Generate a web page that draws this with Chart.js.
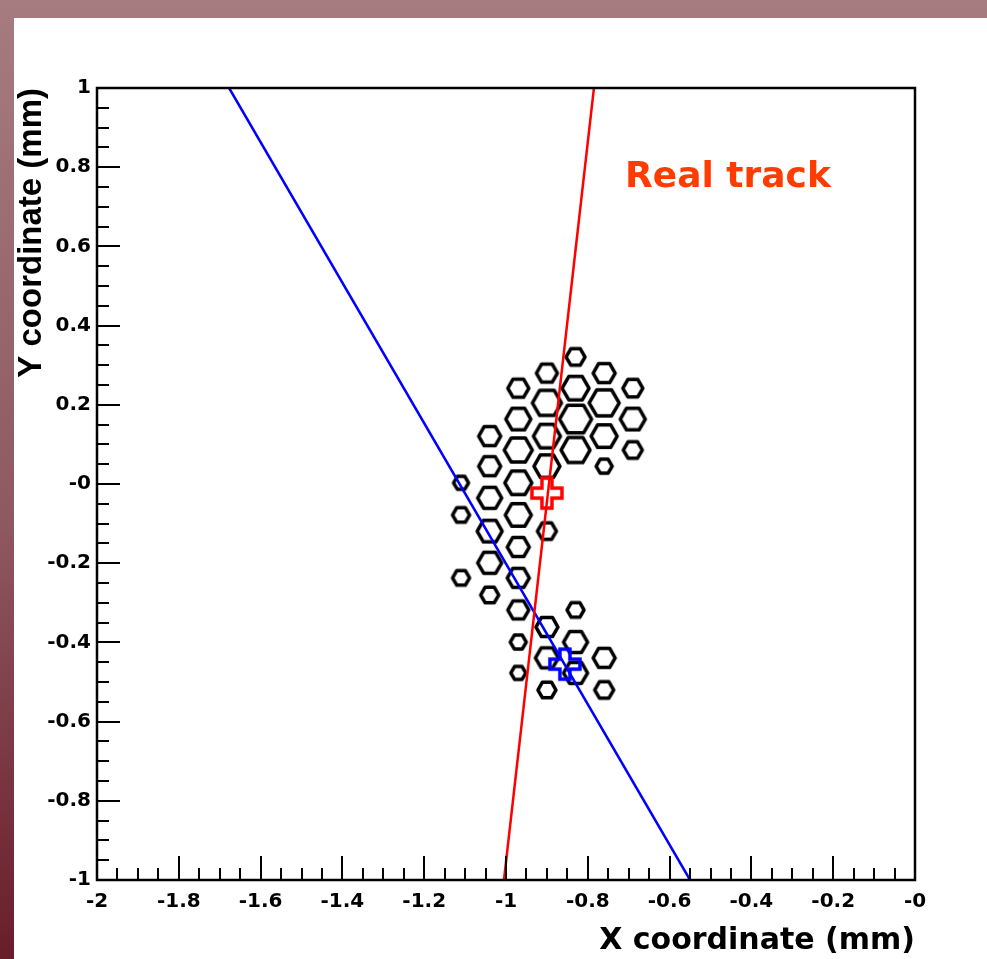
<!DOCTYPE html>
<html>
<head>
<meta charset="utf-8">
<script src="https://cdn.jsdelivr.net/npm/chart.js@4.4.1/dist/chart.umd.min.js"></script>
<style>
    html, body {
        margin: 0;
        padding: 0;
        width: 987px;
        height: 959px;
        overflow: hidden;
        background: linear-gradient(to bottom, #a67c80 0%, #8e5860 55%, #691d2b 100%);
    }
    #panel {
        position: absolute;
        left: 14px;
        top: 18px;
        width: 973px;
        height: 941px;
        background: #fff;
    }
</style>
</head>
<body>
<div id="panel"><canvas id="hits" width="973" height="941"></canvas></div>
<script>
// Axis ticks
const xTickVals = [-2, -1.8, -1.6, -1.4, -1.2, -1, -0.8, -0.6, -0.4, -0.2, 0];
const xTickLabels = ['-2', '-1.8', '-1.6', '-1.4', '-1.2', '-1', '-0.8', '-0.6', '-0.4', '-0.2', '-0'];
const yTickVals = [-1, -0.8, -0.6, -0.4, -0.2, 0, 0.2, 0.4, 0.6, 0.8, 1];
const yTickLabels = ['-1', '-0.8', '-0.6', '-0.4', '-0.2', '-0', '0.2', '0.4', '0.6', '0.8', '1'];
const minorPerMajor = 4;

// Pixel hits (x, y in mm) and their charge (arbitrary units, drawn as hexagon size)
const hitX = [-0.83, -0.90, -0.76, -0.97, -0.83, -0.69, -0.90, -0.76, -0.97, -0.83, -0.69,
    -1.04, -0.90, -0.76, -0.97, -0.83, -0.69, -1.04, -0.90, -0.76, -1.11, -0.97,
    -1.04, -1.11, -0.97, -1.04, -0.90, -0.97, -1.04, -1.11, -0.97, -1.04,
    -0.97, -0.83, -0.90, -0.97, -0.83, -0.90, -0.76, -0.83, -0.97, -0.90, -0.76];
const hitY = [0.321, 0.280, 0.280, 0.242, 0.242, 0.242, 0.205, 0.205, 0.164, 0.164, 0.164,
    0.121, 0.121, 0.121, 0.086, 0.086, 0.086, 0.045, 0.045, 0.045, 0.003, 0.003,
    -0.035, -0.078, -0.078, -0.119, -0.119, -0.159, -0.199, -0.237, -0.237, -0.280,
    -0.318, -0.318, -0.361, -0.399, -0.399, -0.439, -0.439, -0.477, -0.477, -0.520, -0.520];
const hitCharge = [20, 22, 23, 22, 28, 21, 30, 31, 26, 33, 26,
    23, 28, 27, 29, 30, 20, 23, 27, 17, 16, 28,
    25, 18, 27, 26, 20, 23, 25, 18, 23, 19,
    22, 18, 23, 17, 25, 24, 23, 25, 16, 19, 20];

// Reconstructed positions (crosses)
const realHitX = [-0.900];
const realHitY = [-0.023];
const recoHitX = [-0.856];
const recoHitY = [-0.455];

// Track lines (end points)
const realTrackX = [-0.785, -1.005];
const realTrackY = [1, -1];
const recoTrackX = [-1.677, -0.550];
const recoTrackY = [1, -1];

// Annotation
const noteText = 'Real track';
const noteX = -0.709;
const noteY = 0.75;

const toPoints = (xs, ys) => xs.map((x, i) => ({ x: x, y: ys[i] }));

// hexagon marker images, cached by radius
const hexCache = {};
function hexImage(r) {
    const key = r.toFixed(1);
    if (hexCache[key]) return hexCache[key];
    const c = document.createElement('canvas');
    const s = Math.ceil(2 * r + 8);
    c.width = s;
    c.height = s;
    const g = c.getContext('2d');
    g.strokeStyle = '#000';
    g.lineWidth = 3.5;
    g.lineJoin = 'round';
    g.beginPath();
    for (let k = 0; k < 6; k++) {
        const t = k * Math.PI / 3;
        g.lineTo(s / 2 + r * Math.cos(t), s / 2 + r * Math.sin(t));
    }
    g.closePath();
    g.stroke();
    hexCache[key] = c;
    return c;
}
const hexRadius = q => q / 2 - 0.5;

// open "plus" marker
function crossImage(color) {
    const c = document.createElement('canvas');
    c.width = 42;
    c.height = 42;
    const g = c.getContext('2d');
    const a = 15, b = 5;
    const m = 21;
    g.strokeStyle = color;
    g.lineWidth = 3.5;
    g.beginPath();
    const pts = [[-b, -a], [b, -a], [b, -b], [a, -b], [a, b], [b, b], [b, a], [-b, a], [-b, b], [-a, b], [-a, -b], [-b, -b]];
    pts.forEach(p => g.lineTo(m + p[0], m + p[1]));
    g.closePath();
    g.stroke();
    return c;
}

// ROOT style frame with inner ticks + text label
const rootFrame = {
    id: 'rootFrame',
    afterDraw(chart) {
        const { ctx, chartArea: area, scales: { x, y } } = chart;
        ctx.save();
        ctx.strokeStyle = '#000';
        ctx.lineWidth = 2;
        ctx.beginPath();
        for (let i = 0; i < xTickVals.length; i++) {
            const px = Math.round(x.getPixelForValue(xTickVals[i]));
            ctx.moveTo(px, area.bottom);
            ctx.lineTo(px, area.bottom - 24);
            if (i < xTickVals.length - 1) {
                const step = (xTickVals[i + 1] - xTickVals[i]) / minorPerMajor;
                for (let k = 1; k < minorPerMajor; k++) {
                    const mx = Math.round(x.getPixelForValue(xTickVals[i] + k * step));
                    ctx.moveTo(mx, area.bottom);
                    ctx.lineTo(mx, area.bottom - 12);
                }
            }
        }
        for (let i = 0; i < yTickVals.length; i++) {
            const py = Math.round(y.getPixelForValue(yTickVals[i]));
            ctx.moveTo(area.left, py);
            ctx.lineTo(area.left + 23, py);
            if (i < yTickVals.length - 1) {
                const step = (yTickVals[i + 1] - yTickVals[i]) / minorPerMajor;
                for (let k = 1; k < minorPerMajor; k++) {
                    const my = Math.round(y.getPixelForValue(yTickVals[i] + k * step));
                    ctx.moveTo(area.left, my);
                    ctx.lineTo(area.left + 12, my);
                }
            }
        }
        ctx.stroke();
        ctx.lineWidth = 2.5;
        ctx.strokeRect(area.left, area.top, area.right - area.left, area.bottom - area.top);

        ctx.fillStyle = '#ff3c00';
        ctx.font = 'bold 36px "DejaVu Sans"';
        ctx.textAlign = 'left';
        ctx.textBaseline = 'alphabetic';
        ctx.fillText(noteText, x.getPixelForValue(noteX), y.getPixelForValue(noteY));
        ctx.restore();
    }
};

const tickFont = { family: '"DejaVu Sans"', size: 20, weight: 'bold', lineHeight: 1.2 };

new Chart(document.getElementById('hits'), {
    type: 'scatter',
    data: {
        datasets: [
            {
                label: 'real hit',
                data: toPoints(realHitX, realHitY),
                pointStyle: crossImage('#ff0000'),
                pointRadius: 16,
            },
            {
                label: 'reco hit',
                data: toPoints(recoHitX, recoHitY),
                pointStyle: crossImage('#0000ff'),
                pointRadius: 16,
            },
            {
                label: 'real track',
                data: toPoints(realTrackX, realTrackY),
                showLine: true,
                borderColor: '#ff0000',
                borderWidth: 2.5,
                pointRadius: 0,
            },
            {
                label: 'reco track',
                data: toPoints(recoTrackX, recoTrackY),
                showLine: true,
                borderColor: '#0000ff',
                borderWidth: 2.5,
                pointRadius: 0,
            },
            {
                label: 'hits',
                data: toPoints(hitX, hitY),
                pointStyle: ctx => hexImage(hexRadius(hitCharge[ctx.dataIndex])),
                pointRadius: ctx => hexRadius(hitCharge[ctx.dataIndex]),
            }
        ]
    },
    options: {
        responsive: false,
        animation: false,
        devicePixelRatio: 1,
        layout: { padding: { left: 0, top: 70, right: 72, bottom: 0 } },
        plugins: {
            legend: { display: false },
            tooltip: { enabled: false }
        },
        scales: {
            x: {
                type: 'linear',
                position: 'bottom',
                min: -2,
                max: 0,
                grid: { display: false, drawTicks: false },
                border: { display: false },
                afterBuildTicks: scale => { scale.ticks = xTickVals.map(v => ({ value: v })); },
                afterFit: scale => { scale.height = 79; },
                ticks: {
                    autoSkip: false,
                    maxRotation: 0,
                    padding: 10,
                    color: '#000',
                    font: tickFont,
                    callback: (v, i) => xTickLabels[i]
                },
                title: {
                    display: true,
                    text: 'X coordinate (mm)',
                    align: 'end',
                    color: '#000',
                    font: { family: '"DejaVu Sans"', size: 30, weight: 'bold', lineHeight: 1 },
                    padding: { top: 0, bottom: 3 }
                }
            },
            y: {
                type: 'linear',
                position: 'left',
                min: -1,
                max: 1,
                grid: { display: false, drawTicks: false },
                border: { display: false },
                afterBuildTicks: scale => { scale.ticks = yTickVals.map(v => ({ value: v })); },
                afterFit: scale => { scale.width = 83; },
                ticks: {
                    autoSkip: false,
                    padding: 6,
                    color: '#000',
                    font: tickFont,
                    callback: (v, i) => yTickLabels[i]
                },
                title: {
                    display: true,
                    text: 'Y coordinate (mm)',
                    align: 'end',
                    color: '#000',
                    font: { family: '"Liberation Sans"', size: 33, weight: 'bold', lineHeight: 1 },
                    padding: { top: 1, bottom: 0 }
                }
            }
        }
    },
    plugins: [rootFrame]
});
</script>
</body>
</html>
